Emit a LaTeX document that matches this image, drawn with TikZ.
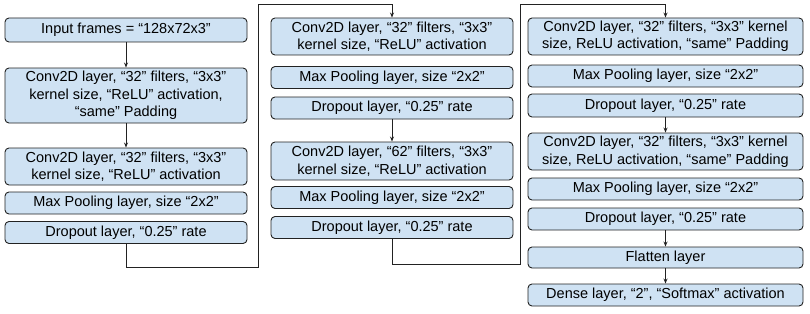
\documentclass[tikz,border=0pt]{standalone}
\usepackage{fontspec}
\setmainfont{Liberation Sans}
\usetikzlibrary{arrows.meta}
\definecolor{boxfill}{HTML}{CFE2F3}
\definecolor{edge}{HTML}{222222}
\tikzset{
  layerbox/.style={draw=edge, fill=boxfill, line width=0.9pt, rounded corners=4pt,
    align=center, inner sep=0pt, font=\fontsize{14.5}{17.5}\selectfont},
  col12/.style={layerbox, minimum width=242pt},
  col3/.style={layerbox, minimum width=275pt},
  arr/.style={draw=edge, line width=0.9pt, -{Stealth[length=5pt,width=4pt]}}
}
\begin{document}
\begin{tikzpicture}[x=1pt,y=-1pt]
\useasboundingbox (0,0) rectangle (810,313);
% column 1
\node[col12, minimum height=24pt] (in) at (126,30) {Input frames = “128x72x3”};
\node[col12, minimum height=55pt] (c1) at (126,95.5) {Conv2D layer, “32” filters, “3x3”\\kernel size, “ReLU” activation,\\“same” Padding};
\node[col12, minimum height=37pt] (c2) at (126,166.5) {Conv2D layer, “32” filters, “3x3”\\kernel size, “ReLU” activation};
\node[col12, minimum height=22pt] (m1) at (126,203) {Max Pooling layer, size “2x2”};
\node[col12, minimum height=22pt] (d1) at (126,232.5) {Dropout layer, “0.25” rate};
% column 2
\node[col12, minimum height=37pt] (c3) at (392,36.5) {Conv2D layer, “32” filters, “3x3”\\kernel size, “ReLU” activation};
\node[col12, minimum height=22pt] (m2) at (392,77.5) {Max Pooling layer, size “2x2”};
\node[col12, minimum height=22pt] (d2) at (392,108) {Dropout layer, “0.25” rate};
\node[col12, minimum height=38pt] (c4) at (392,161) {Conv2D layer, “62” filters, “3x3”\\kernel size, “ReLU” activation};
\node[col12, minimum height=22pt] (m3) at (392,197.5) {Max Pooling layer, size “2x2”};
\node[col12, minimum height=22pt] (d3) at (392,227.5) {Dropout layer, “0.25” rate};
% column 3
\node[col3, minimum height=37pt] (c5) at (665.5,36.5) {Conv2D layer, “32” filters, “3x3” kernel\\size, ReLU activation, “same” Padding};
\node[col3, minimum height=22pt] (m4) at (665.5,76) {Max Pooling layer, size “2x2”};
\node[col3, minimum height=23pt] (d4) at (665.5,105.5) {Dropout layer, “0.25” rate};
\node[col3, minimum height=37pt] (c6) at (665.5,151.5) {Conv2D layer, “32” filters, “3x3” kernel\\size, ReLU activation, “same” Padding};
\node[col3, minimum height=22pt] (m5) at (665.5,189) {Max Pooling layer, size “2x2”};
\node[col3, minimum height=22pt] (d5) at (665.5,219) {Dropout layer, “0.25” rate};
\node[col3, minimum height=21pt] (fl) at (665.5,257.5) {Flatten layer};
\node[col3, minimum height=22pt] (de) at (665.5,295) {Dense layer, “2”, “Softmax” activation};
% connector corners
\coordinate (k1) at (258,267);
\coordinate (k2) at (258,4);
\coordinate (k3) at (520,264);
\coordinate (k4) at (520,4);
% connectors
\draw[arr] (in) -- (c1);
\draw[arr] (c1) -- (c2);
\draw[arr] (d1.south) |- (k1) -- (k2) -| (c3.north);
\draw[arr] (d2) -- (c4);
\draw[arr] (d3.south) |- (k3) -- (k4) -| (c5.north);
\draw[arr] (d4) -- (c6);
\draw[arr] (d5) -- (fl);
\draw[arr] (fl) -- (de);
\end{tikzpicture}
\end{document}
